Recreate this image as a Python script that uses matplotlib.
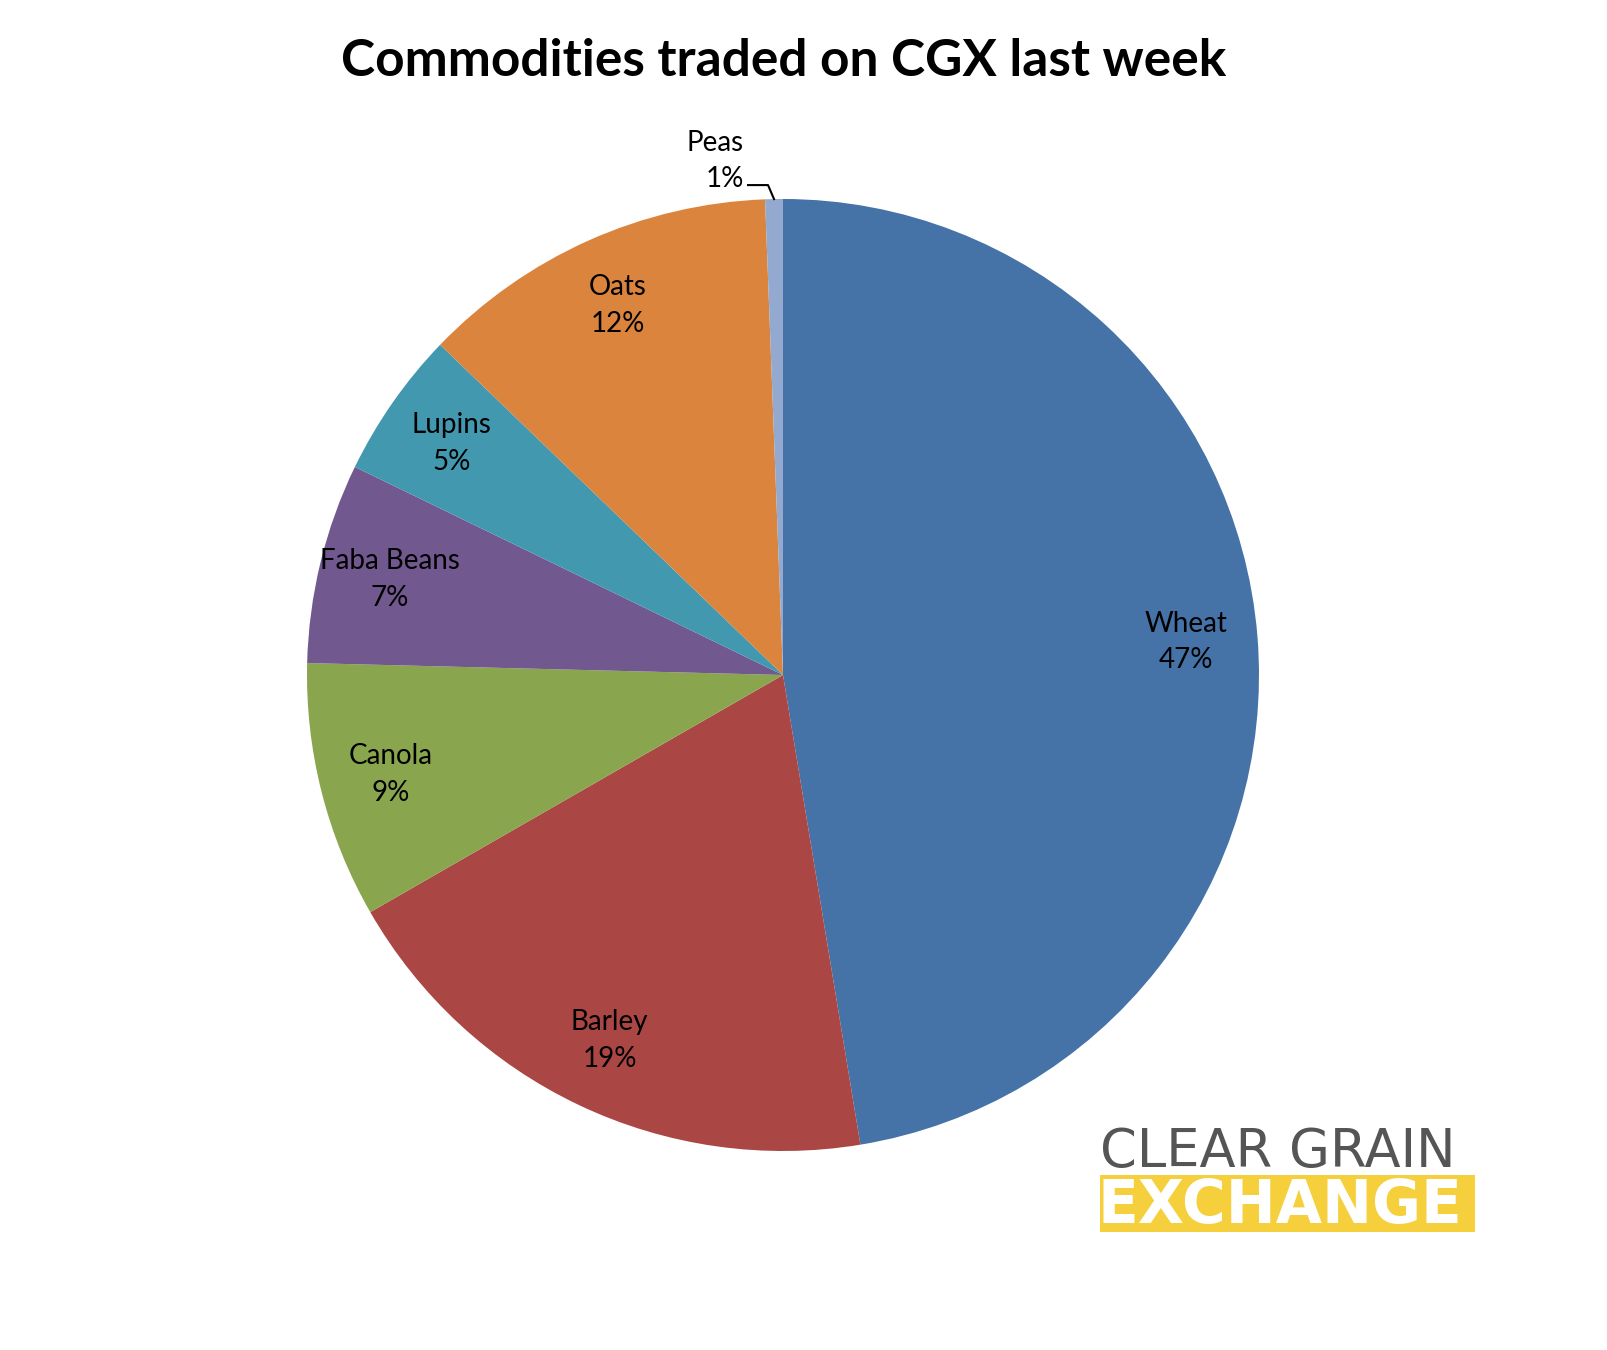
import numpy as np
import matplotlib.pyplot as plt

plt.rcParams['font.family'] = ['Lato', 'DejaVu Sans']

commodities = ["Wheat", "Barley", "Canola", "Faba Beans", "Lupins", "Oats", "Peas"]
shares = [47.4, 19.3, 8.7, 6.8, 5.0, 12.2, 0.6]
colors = ["#4572a7", "#aa4643", "#89a54e", "#71588f", "#4198af", "#db843d", "#93a9cf"]

W, H = 1608, 1350
fig = plt.figure(figsize=(W / 100, H / 100), dpi=100)
ax = fig.add_axes([0, 0, 1, 1])

cx, cy, r = 783, H - 675, 476
wedges, _ = ax.pie(shares, colors=colors, startangle=90, counterclock=False,
                   center=(cx, cy), radius=r, frame=True)
ax.set_xlim(0, W)
ax.set_ylim(0, H)
ax.set_aspect("equal")
ax.axis("off")

for w, name, s in zip(wedges, commodities, shares):
    mid = np.deg2rad((w.theta1 + w.theta2) / 2)
    label = f"{name}\n{round(s):.0f}%"
    if s < 2:
        ex, ey = cx + r * np.cos(mid), cy + r * np.sin(mid)
        ax.plot([ex, ex - 6, ex - 26], [ey, ey + 14, ey + 14], color="black", lw=1.5)
        ax.text(ex - 30, ey + 38, label, ha="right", va="center", fontsize=20,
                linespacing=1.5)
    else:
        d = 0.85 * r
        ax.text(cx + d * np.cos(mid), cy + d * np.sin(mid), label, ha="center",
                va="center", fontsize=20, linespacing=1.5)

ax.text(W / 2 - 20, H - 62, "Commodities traded on CGX last week", ha="center",
        va="center", fontsize=37, fontweight="bold")

# logo
ax.add_patch(plt.Rectangle((1100, H - 1232), 375, 57, color="#f6cf3c", lw=0))
ax.text(1100, H - 1152, "CLEAR GRAIN", ha="left", va="center", fontsize=38,
        color="#555555", family=["DejaVu Sans"])
ax.text(1098, H - 1206, "EXCHANGE", ha="left", va="center", fontsize=43,
        color="white", fontweight="bold", family=["DejaVu Sans"])

fig.savefig("out.png", dpi=100, facecolor="white")
